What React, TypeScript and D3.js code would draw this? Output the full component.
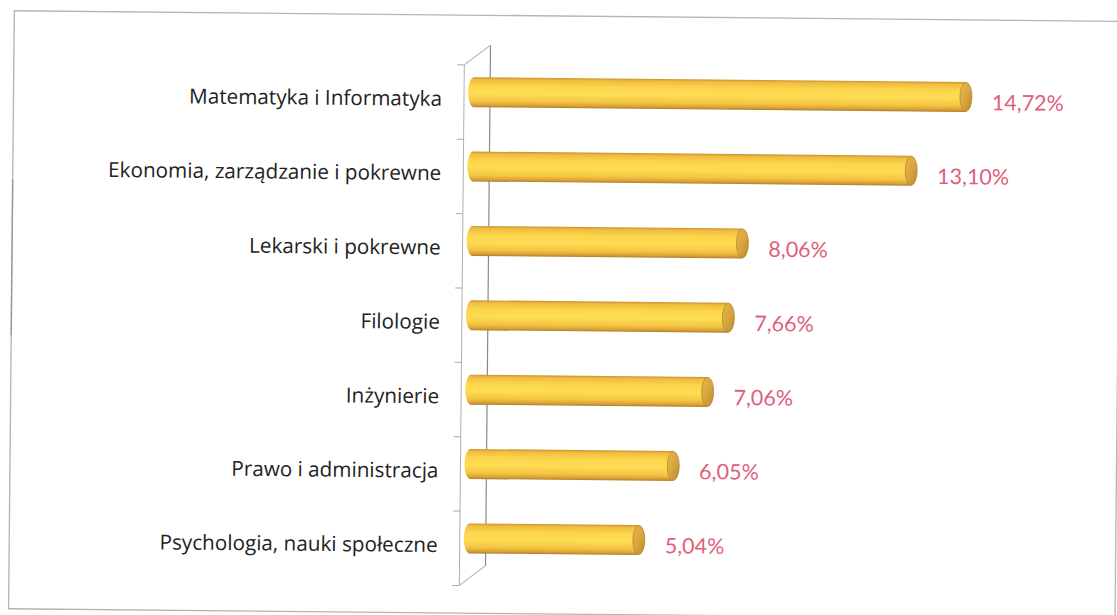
import React from "react";
import * as d3 from "d3";

const categories = [
  "Matematyka i Informatyka",
  "Ekonomia, zarządzanie i pokrewne",
  "Lekarski i pokrewne",
  "Filologie",
  "Inżynierie",
  "Prawo i administracja",
  "Psychologia, nauki społeczne",
];
const values = [14.72, 13.1, 8.06, 7.66, 7.06, 6.05, 5.04];
const valueLabels = ["14,72%", "13,10%", "8,06%", "7,66%", "7,06%", "6,05%", "5,04%"];

const W = 1117;
const H = 615;
const CAT_FONT = "'Open Sans', Lato, sans-serif";
const VAL_FONT = "Lato, 'Open Sans', sans-serif";

export default function App() {
  const x = d3.scaleLinear().domain([0, 15]).range([479, 979.25]);
  const y = d3.scaleBand<string>().domain(categories).range([55.8, 576.4]).padding(0);
  const bw = y.bandwidth();
  const barH = 30;
  const capRx = 6;
  const depthX = 13;
  const depthY = 10;
  const midX = x(0) - 4;
  const frontX = midX - depthX;
  const backX = midX + depthX;
  const [y0, y1] = y.range();
  const boundaries = d3.range(categories.length + 1).map((i) => y0 + i * bw);

  return (
    <svg
      width={W}
      height={H}
      style={{ position: "absolute", left: 0, top: 0, display: "block", background: "#fff" }}
    >
      <defs>
        <linearGradient id="cyl" x1="0" y1="0" x2="0" y2="1">
          <stop offset="0%" stopColor="#c8922e" />
          <stop offset="8%" stopColor="#f0bc3e" />
          <stop offset="30%" stopColor="#fcd64d" />
          <stop offset="55%" stopColor="#fedc54" />
          <stop offset="80%" stopColor="#f4c442" />
          <stop offset="93%" stopColor="#d9a136" />
          <stop offset="100%" stopColor="#ad7e2a" />
        </linearGradient>
        <linearGradient id="cap" x1="0" y1="0" x2="1" y2="1">
          <stop offset="0%" stopColor="#e6b64a" />
          <stop offset="50%" stopColor="#d9a63d" />
          <stop offset="100%" stopColor="#b88832" />
        </linearGradient>
      </defs>
      <g transform="rotate(0.55 558 307)">
        {/* frame */}
        <rect x={11.5} y={16} width={1118 - 11.5} height={614 - 16} fill="none" stroke="#b4b4b4" strokeWidth={1.3} />
        <line x1={11.5} x2={11.5} y1={185} y2={340} stroke="#777" strokeWidth={1.5} strokeDasharray="1 1" />

        {/* 3D axis wall */}
        <line x1={backX} x2={backX} y1={y0 - depthY} y2={y1 - depthY} stroke="#8a8a8a" strokeWidth={1.2} />
        <line x1={frontX} x2={frontX} y1={y0 + depthY} y2={y1 + depthY} stroke="#b0b0b0" strokeWidth={1} />
        <line x1={frontX} x2={backX} y1={y0 + depthY} y2={y0 - depthY} stroke="#b0b0b0" strokeWidth={1} />
        <line x1={frontX} x2={backX} y1={y1 + depthY} y2={y1 - depthY} stroke="#b0b0b0" strokeWidth={1} />
        {boundaries.map((b, i) => (
          <line key={i} x1={frontX - 7} x2={frontX} y1={b + depthY} y2={b + depthY} stroke="#a8a8a8" strokeWidth={1} />
        ))}

        {/* bars */}
        {categories.map((c, i) => {
          const cy = (y(c) as number) + bw / 2;
          const xs = x(0) - 7;
          const xe = x(values[i]);
          return (
            <g key={c}>
              <ellipse cx={xs} cy={cy} rx={capRx} ry={barH / 2} fill="url(#cyl)" />
              <rect x={xs} y={cy - barH / 2} width={xe - capRx - xs} height={barH} fill="url(#cyl)" />
              <ellipse
                cx={xe - capRx}
                cy={cy}
                rx={capRx}
                ry={barH / 2 - 0.5}
                fill="url(#cap)"
                stroke="#b88a2e"
                strokeWidth={0.8}
              />
            </g>
          );
        })}

        {/* category labels */}
        {categories.map((c) => {
          const cy = (y(c) as number) + bw / 2;
          return (
            <text
              key={c}
              x={440}
              y={cy + 14}
              textAnchor="end"
              fontFamily={CAT_FONT}
              fontSize={20.7}
              fill="#222"
            >
              {c}
            </text>
          );
        })}

        {/* value labels */}
        {categories.map((c, i) => {
          const cy = (y(c) as number) + bw / 2;
          return (
            <text
              key={c}
              x={x(values[i]) + 20}
              y={cy + 13}
              fontFamily={VAL_FONT}
              fontSize={21.5}
              fill="#e0607a"
            >
              {valueLabels[i]}
            </text>
          );
        })}
      </g>
    </svg>
  );
}
